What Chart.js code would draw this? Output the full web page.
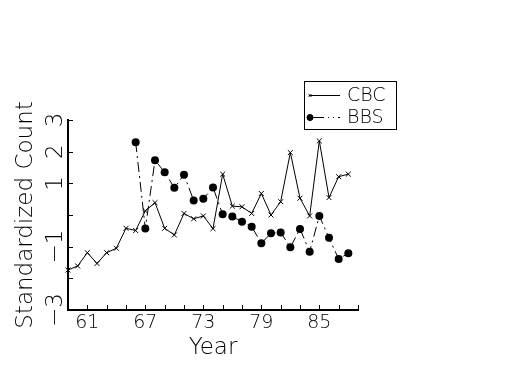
<!DOCTYPE html>
<html>
<head>
<meta charset="utf-8">
<script src="https://cdn.jsdelivr.net/npm/chart.js@4/dist/chart.umd.min.js"></script>
<style>
  body { margin: 0; background: #fff; }
  #c { display: block; }
</style>
</head>
<body>
<canvas id="c" width="525" height="375"></canvas>
<script>
// years on the x axis (19xx)
var cbcYears = [59, 60, 61, 62, 63, 64, 65, 66, 67, 68, 69, 70, 71, 72, 73, 74, 75, 76, 77, 78, 79, 80, 81, 82, 83, 84, 85, 86, 87, 88];
var cbcValues = [-1.74, -1.61, -1.19, -1.53, -1.19, -1.05, -0.42, -0.49, 0.13, 0.39, -0.42, -0.63, 0.05, -0.12, -0.03, -0.43, 1.29, 0.28, 0.26, 0.05, 0.68, 0.00, 0.42, 1.97, 0.53, -0.03, 2.34, 0.55, 1.21, 1.29];

var bbsYears = [66, 67, 68, 69, 70, 71, 72, 73, 74, 75, 76, 77, 78, 79, 80, 81, 82, 83, 84, 85, 86, 87, 88];
var bbsValues = [2.30, -0.43, 1.73, 1.35, 0.86, 1.27, 0.46, 0.51, 0.87, 0.02, -0.05, -0.21, -0.37, -0.89, -0.58, -0.55, -1.02, -0.44, -1.16, -0.03, -0.72, -1.39, -1.21];

var xTickLabels = [61, 67, 73, 79, 85];
var yTickLabels = [3, 2, 1, -1, -3];

var FONT = "'DejaVu Sans', sans-serif";
var WEIGHT = 200;

function toPoints(xs, ys) {
  var out = [];
  xs.forEach(function(x, i) { out.push({x: x, y: ys[i]}); });
  return out;
}

// inward tick marks, rotated y labels and the boxed legend
var extras = {
  id: 'extras',
  afterDraw: function(chart) {
    var ctx = chart.ctx;
    var xs = chart.scales.x, ys = chart.scales.y;
    var area = chart.chartArea;
    ctx.save();
    ctx.strokeStyle = '#000';
    ctx.lineWidth = 1;
    xs.ticks.forEach(function(t) {
      var px = Math.round(xs.getPixelForValue(t.value)) + 0.5;
      ctx.beginPath();
      ctx.moveTo(px, area.bottom);
      ctx.lineTo(px, area.bottom - 5);
      ctx.stroke();
    });
    ys.ticks.forEach(function(t) {
      var py = Math.round(ys.getPixelForValue(t.value)) + 0.5;
      ctx.beginPath();
      ctx.moveTo(area.left, py);
      ctx.lineTo(area.left + 5, py);
      ctx.stroke();
    });

    // y tick labels, turned like the title
    ctx.fillStyle = '#000';
    ctx.font = WEIGHT + ' 23px ' + FONT;
    ctx.textAlign = 'center';
    ctx.textBaseline = 'middle';
    yTickLabels.forEach(function(v) {
      var py = ys.getPixelForValue(v);
      ctx.save();
      ctx.translate(area.left - 12, py);
      ctx.rotate(-Math.PI / 2);
      ctx.fillText(v < 0 ? '\u2212' + Math.abs(v) : String(v), 0, 0);
      ctx.restore();
    });

    // legend box
    var bx = area.right - 54, by = 81, bw = 92, bh = 48;
    ctx.strokeRect(bx + 0.5, by + 0.5, bw, bh);
    ctx.font = WEIGHT + ' 19px ' + FONT;
    ctx.textAlign = 'left';
    chart.data.datasets.forEach(function(ds, i) {
      var ly = by + 14 + i * 22;
      ctx.save();
      ctx.lineWidth = 1;
      ctx.setLineDash(i === 0 ? [] : [15, 4, 1, 4, 1, 4]);
      ctx.beginPath();
      ctx.moveTo(bx + 5, ly + 0.5);
      ctx.lineTo(bx + 36, ly + 0.5);
      ctx.stroke();
      ctx.restore();
      Chart.helpers.drawPoint(ctx, {
        pointStyle: ds.pointStyle, radius: i === 0 ? 2 : 3, borderWidth: 1, rotation: 0
      }, bx + 6, ly + 0.5);
      if (i === 1) { ctx.fill(); }
      ctx.fillText(ds.label, bx + 43, ly + 1);
    });
    ctx.restore();
  }
};

new Chart(document.getElementById('c'), {
  type: 'line',
  plugins: [extras],
  data: {
    datasets: [{
      label: 'CBC',
      data: toPoints(cbcYears, cbcValues),
      borderColor: '#000',
      borderWidth: 1,
      pointStyle: 'crossRot',
      pointRadius: 3.5,
      pointBorderColor: '#000',
      pointBorderWidth: 1,
      tension: 0,
      clip: false
    }, {
      label: 'BBS',
      data: toPoints(bbsYears, bbsValues),
      borderColor: '#000',
      borderWidth: 1,
      borderDash: [10, 4, 2, 4],
      pointStyle: 'circle',
      pointRadius: 4,
      pointBackgroundColor: '#000',
      pointBorderColor: '#000',
      pointBorderWidth: 0,
      tension: 0,
      clip: false
    }]
  },
  options: {
    responsive: false,
    animation: false,
    layout: { padding: { top: 120, right: 167, left: 0, bottom: 0 } },
    plugins: { legend: { display: false }, tooltip: { enabled: false } },
    scales: {
      x: {
        type: 'linear',
        min: 59,
        max: 89,
        afterFit: function(s) { s.height = 65; },
        border: { color: '#000', width: 2 },
        grid: { display: false, drawTicks: false },
        ticks: {
          stepSize: 2,
          autoSkip: false,
          maxRotation: 0,
          padding: 2,
          color: '#000',
          font: { family: FONT, size: 19, weight: WEIGHT },
          callback: function(v) { return xTickLabels.indexOf(v) >= 0 ? String(v) : ''; }
        },
        title: {
          display: true,
          text: 'Year',
          color: '#000',
          font: { family: FONT, size: 23, weight: WEIGHT },
          padding: { top: 0, bottom: 13 }
        }
      },
      y: {
        min: -3,
        max: 3,
        afterFit: function(s) { s.width = 68; },
        border: { color: '#000', width: 2 },
        grid: { display: false, drawTicks: false },
        ticks: { stepSize: 1, display: false },
        title: {
          display: true,
          text: 'Standardized Count',
          color: '#000',
          font: { family: FONT, size: 23, weight: WEIGHT },
          padding: { top: 12, bottom: 0 }
        }
      }
    }
  }
});
</script>
</body>
</html>
